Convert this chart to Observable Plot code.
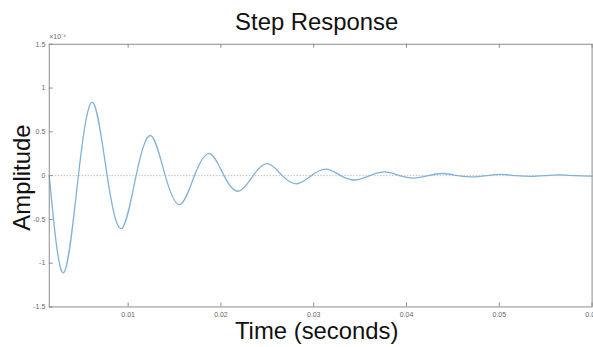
<!DOCTYPE html>
<html><head><meta charset="utf-8">
<script src="https://cdn.jsdelivr.net/npm/d3@7"></script>
<script src="https://cdn.jsdelivr.net/npm/@observablehq/plot@0.6"></script>
<style>
html,body{margin:0;padding:0;background:#fff;overflow:hidden;}
</style></head><body><div id="chart"></div>
<script>
// Time (s) of extrema and zero crossings
const times = [0.0015, 0.00303, 0.00464, 0.00619, 0.00774, 0.00929, 0.01086, 0.01244, 0.01400, 0.01558,
  0.01715, 0.01876, 0.02033, 0.02190, 0.02348, 0.02503, 0.02661, 0.02820, 0.02976, 0.03134,
  0.03291, 0.03449, 0.03606, 0.03765, 0.03924, 0.04079, 0.04235, 0.04394, 0.04551, 0.04707,
  0.04868, 0.05023, 0.05178, 0.05339, 0.05495, 0.05650, 0.05811, 0.05966, 0.06];
// Amplitude (×10^-4)
const amplitudes = [0, -1.11, 0, 0.835, 0, -0.605, 0, 0.457, 0, -0.33,
  0, 0.25, 0, -0.178, 0, 0.136, 0, -0.093, 0, 0.074,
  0, -0.05, 0, 0.042, 0, -0.028, 0, 0.024, 0, -0.015,
  0, 0.013, 0, -0.009, 0, 0.008, 0, -0.005, -0.004];
const xTicks = [0.01, 0.02, 0.03, 0.04, 0.05, 0.06];
const xTickLabels = ["0.01", "0.02", "0.03", "0.04", "0.05", "0.06"];
const yTicks = [-1.5, -1, -0.5, 0, 0.5, 1, 1.5];
const yTickLabels = ["-1.5", "-1", "-0.5", "0", "0.5", "1", "1.5"];
const titleText = "Step Response";
const xLabel = "Time (seconds)";
const yLabel = "Amplitude";
const exponentLabel = "×10⁻⁴";

const W = 596, H = 347, mL = 49, mR = 1.4, mT = 44, mB = 39;
const plotW = W - mL - mR, plotH = H - mT - mB;
const data = times.map((t, i) => ({t, a: amplitudes[i]}));
const axisColor = "#8c8c8c";
const chart = Plot.plot({
  width: W, height: H, marginLeft: mL, marginRight: mR, marginTop: mT, marginBottom: mB,
  style: {fontFamily: "'Liberation Sans', Arial, sans-serif", background: "#fff", overflow: "visible"},
  x: {domain: [0.0015, 0.06]},
  y: {domain: [-1.5, 1.5]},
  marks: [
    Plot.ruleY([0], {stroke: "#c4c4c4", strokeDasharray: "1.5,1.5"}),
    Plot.line(data, {x: "t", y: "a", stroke: "#80b2da", strokeWidth: 1.3, curve: "natural"}),
    Plot.frame({stroke: axisColor}),
    Plot.tickY(yTicks, {y: d => d, stroke: axisColor, insetRight: plotW - 4}),
    Plot.tickX(xTicks, {x: d => d, stroke: axisColor, insetTop: plotH - 4}),
    Plot.tickX(xTicks, {x: d => d, stroke: axisColor, insetBottom: plotH - 4}),
    Plot.axisY(yTicks, {tickSize: 0, tickPadding: 4, tickFormat: d => yTickLabels[yTicks.indexOf(d)], fontSize: 7, fill: "#666", label: null}),
    Plot.axisX(xTicks, {tickSize: 0, tickPadding: 5, tickFormat: d => xTickLabels[xTicks.indexOf(d)], fontSize: 7, fill: "#666", label: null}),
    Plot.text([titleText], {text: d => d, frameAnchor: "top", lineAnchor: "middle", textAnchor: "middle", dx: -4, dy: -22, fontSize: 24, fill: "#111"}),
    Plot.text([xLabel], {text: d => d, frameAnchor: "bottom", lineAnchor: "middle", textAnchor: "middle", dx: -4, dy: 25, fontSize: 24, fill: "#111"}),
    Plot.text([yLabel], {text: d => d, frameAnchor: "left", lineAnchor: "middle", textAnchor: "middle", dx: -27, dy: 2, rotate: -90, fontSize: 24, fill: "#111"}),
    Plot.text([exponentLabel], {text: d => d, frameAnchor: "top-left", lineAnchor: "middle", textAnchor: "start", dy: -8, fontSize: 7, fill: "#666"})
  ]
});
document.getElementById("chart").appendChild(chart);
</script></body></html>
